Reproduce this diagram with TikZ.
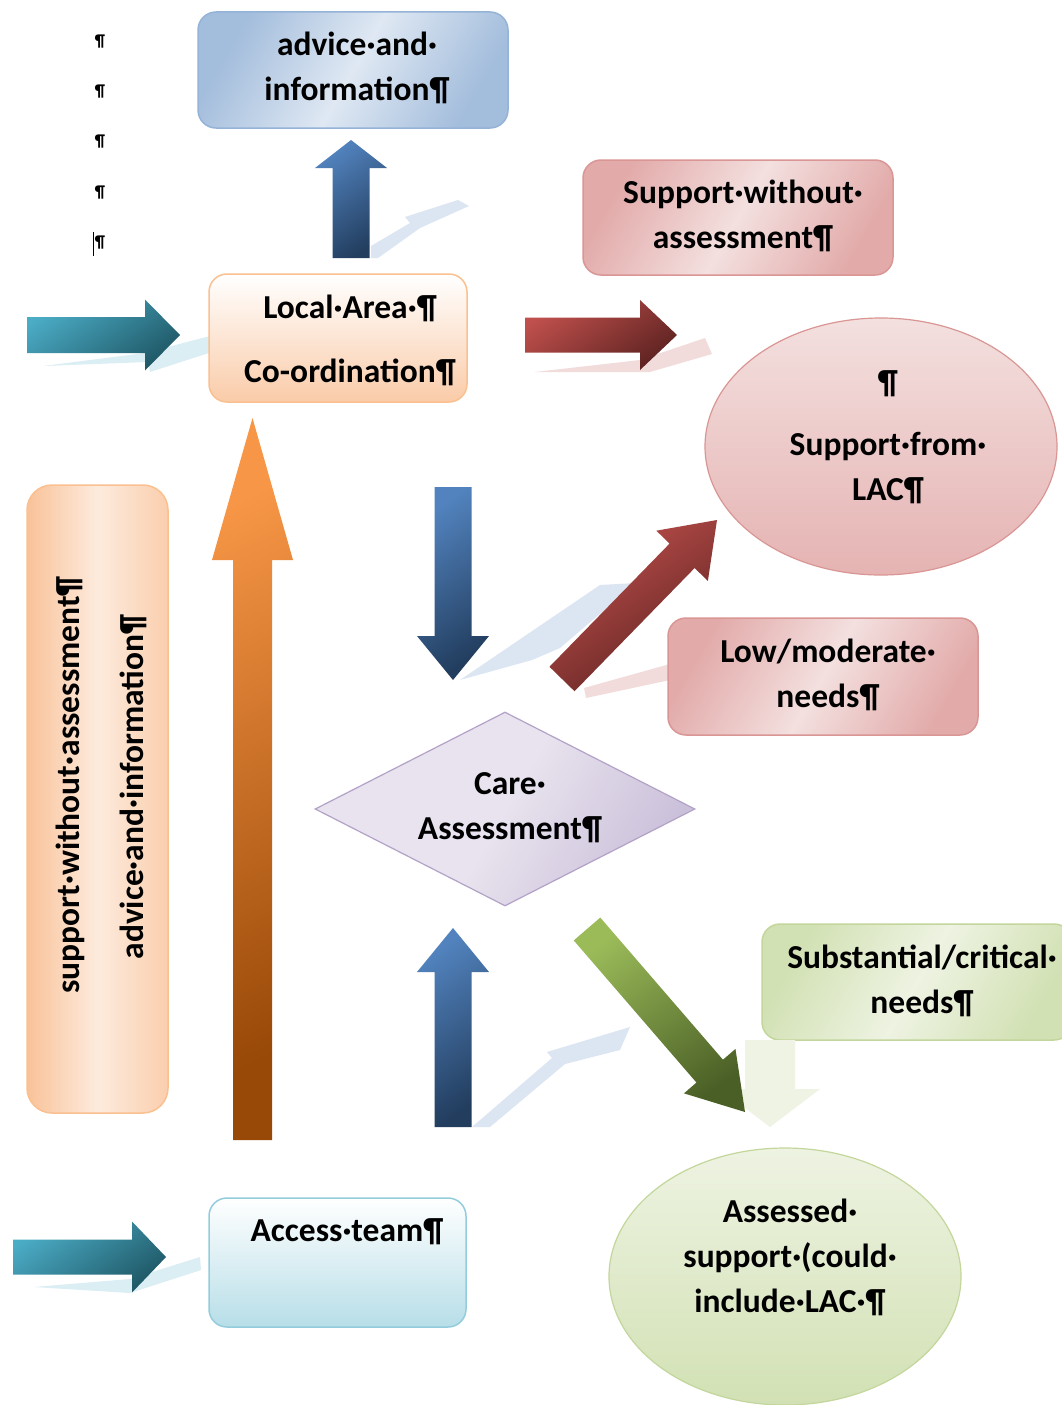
\documentclass[tikz,border=0pt]{standalone}
\usepackage{fontspec}
\setmainfont{Carlito}
\usetikzlibrary{calc,shapes.geometric}

\definecolor{bL}{HTML}{DFE8F3}\definecolor{bD}{HTML}{A3BDDC}\definecolor{bB}{HTML}{95B3D7}
\definecolor{pL}{HTML}{F3E0DF}\definecolor{pD}{HTML}{E2ABAA}\definecolor{pB}{HTML}{D99694}
\definecolor{oL}{HTML}{FDEBDD}\definecolor{oD}{HTML}{F9C299}\definecolor{oB}{HTML}{FAC090}
\definecolor{gL}{HTML}{EEF3E2}\definecolor{gD}{HTML}{D2E1B4}\definecolor{gB}{HTML}{C3D69B}
\definecolor{lL}{HTML}{E8E3EE}\definecolor{lD}{HTML}{CBC0DA}\definecolor{lB}{HTML}{B3A2C7}
\definecolor{aD}{HTML}{B7DEE8}\definecolor{aB}{HTML}{93CDDD}
\definecolor{rfB}{HTML}{DCE6F2}\definecolor{rfT}{HTML}{DAEEF3}\definecolor{rfP}{HTML}{F2DCDB}\definecolor{rfG}{HTML}{EEF3E4}
\definecolor{arB1}{HTML}{5283BE}\definecolor{arB2}{HTML}{223D5E}
\definecolor{arT1}{HTML}{4BACC6}\definecolor{arT2}{HTML}{1F5866}
\definecolor{arR1}{HTML}{C0504D}\definecolor{arR2}{HTML}{5E2321}
\definecolor{arO1}{HTML}{F79646}\definecolor{arO2}{HTML}{984807}
\definecolor{arG1}{HTML}{9BBB59}\definecolor{arG2}{HTML}{4A5F26}

\tikzset{
  lbl/.style={font=\fontsize{33.5}{45}\selectfont\bfseries, align=center, inner sep=0pt, text=black},
  smallpil/.style={font=\fontsize{17}{50.3}\selectfont\bfseries, align=center, inner sep=0pt},
  boxbase/.style={rounded corners=18pt, line width=1.5pt, inner sep=0pt},
  bluebox/.style={boxbase, draw=bB, left color=bD, right color=bD, middle color=bL, shading angle=60},
  pinkbox/.style={boxbase, draw=pB, left color=pD, right color=pD, middle color=pL, shading angle=60},
  greenbox/.style={boxbase, draw=gB, left color=gD, right color=gD, middle color=gL, shading angle=60},
  peachbox/.style={boxbase, draw=oB, top color=white, bottom color=oD!85},
  aquabox/.style={boxbase, draw=aB, top color=white, bottom color=aD},
  sidebox/.style={boxbase, rounded corners=25pt, draw=oB, left color=oD, right color=oD!80, middle color=oL},
  pinkell/.style={ellipse, line width=1.2pt, draw=pB, top color=pL, bottom color=pD!90, inner sep=0pt},
  greenell/.style={ellipse, line width=1.2pt, draw=gB, top color=gL, bottom color=gD, inner sep=0pt},
  lilac/.style={diamond, line width=1.2pt, draw=lB, left color=lL, right color=lD, middle color=lL, shading angle=60, inner sep=0pt},
  blueArr/.style={top color=arB1, bottom color=arB2, shading angle=35},
  tealArr/.style={top color=arT1, bottom color=arT2, shading angle=35},
  redArr/.style={top color=arR1, bottom color=arR2, shading angle=35},
  orangeArr/.style={top color=arO1, bottom color=arO2, shading angle=25},
  greenArr/.style={top color=arG1, bottom color=arG2, shading angle=35},
  paleArr/.style={fill=rfG},
}

% #1 style, #2 tail, #3 tip, #4 shaft half width, #5 head half width, #6 head length
\newcommand{\blockarrow}[6]{%
  \coordinate (ba-base) at ($(#3)!#6pt!(#2)$);
  \path[#1] ($(#2)!#4pt!90:(#3)$) -- ($(ba-base)!#4pt!-90:(#2)$) -- ($(ba-base)!#5pt!-90:(#2)$) -- (#3)
     -- ($(ba-base)!#5pt!90:(#2)$) -- ($(ba-base)!#4pt!90:(#2)$) -- ($(#2)!#4pt!-90:(#3)$) -- cycle;
}

\begin{document}
\begin{tikzpicture}[x=1pt,y=-1pt]
\useasboundingbox (0,0) rectangle (1061,1405);
\fill[white] (0,0) rectangle (1061,1405);

% faint reflections
\fill[rfB] (371,258) -- (371,246) -- (410,223) -- (405,217) -- (458,200) -- (469,206) -- (420,228) -- (378,258) -- cycle;
\fill[rfT] (43,366) -- (145,353) -- (210,336) -- (212,352) -- (150,372) -- (148,362) -- cycle;
\fill[rfP] (535,372) -- (640,360) -- (705,338) -- (712,354) -- (650,372) -- cycle;
\fill[rfB] (460,680) -- (600,585) -- (636,583) -- (560,648) -- (532,660) -- cycle;
\fill[rfP] (584,688) -- (670,664) -- (670,680) -- (586,698) -- cycle;
\fill[rfB] (472,1127) -- (552,1058) -- (547,1052) -- (630,1027) -- (620,1050) -- (565,1064) -- (490,1127) -- cycle;
\fill[rfT] (34,1287) -- (130,1279) -- (200,1257) -- (201,1270) -- (130,1293) -- cycle;

% boxes
\node[bluebox, minimum width=310pt, minimum height=116pt] (advice) at (353,70) {};
\node[pinkbox, minimum width=310pt, minimum height=115pt] (swa) at (738,217.5) {};
\node[peachbox, minimum width=258pt, minimum height=128pt] (lac) at (338,338) {};
\node[pinkell, minimum width=352pt, minimum height=257pt] (slac) at (881,446.5) {};
\node[sidebox, minimum width=141pt, minimum height=628pt] (side) at (97.5,799) {};
\node[pinkbox, minimum width=310pt, minimum height=117pt] (low) at (823,676.5) {};
\node[lilac, minimum width=380pt, minimum height=194pt] (care) at (505,809) {};
\node[greenbox, minimum width=310pt, minimum height=116pt] (sub) at (917,982) {};
\node[aquabox, minimum width=257pt, minimum height=129pt] (acc) at (337.5,1262.5) {};
\node[greenell, minimum width=352pt, minimum height=257pt] (ass) at (785,1276.5) {};

% arrow end points
\coordinate (a1t) at (351,258);   \coordinate (a1h) at (351,140);
\coordinate (a2t) at (27,335);    \coordinate (a2h) at (180,335);
\coordinate (a3t) at (525,335);   \coordinate (a3h) at (677,335);
\coordinate (a4t) at (252.5,1140);\coordinate (a4h) at (252.5,418);
\coordinate (a5t) at (453,487);   \coordinate (a5h) at (453,680);
\coordinate (a6t) at (562,679);   \coordinate (a6h) at (717,520);
\coordinate (a7t) at (453,1127);  \coordinate (a7h) at (453,928);
\coordinate (a8t) at (587,929);   \coordinate (a8h) at (745,1112);
\coordinate (a9t) at (13,1257);   \coordinate (a9h) at (166,1257);
\coordinate (a10t) at (770,1040); \coordinate (a10h) at (770,1127);

\blockarrow{paleArr}{a10t}{a10h}{25}{50}{38}
\blockarrow{blueArr}{a1t}{a1h}{18.5}{36}{28}
\blockarrow{tealArr}{a2t}{a2h}{18}{35.5}{35}
\blockarrow{redArr}{a3t}{a3h}{17.5}{35}{37}
\blockarrow{orangeArr}{a4t}{a4h}{19.5}{40.5}{142}
\blockarrow{blueArr}{a5t}{a5h}{18.5}{36}{44}
\blockarrow{redArr}{a6t}{a6h}{17.5}{36}{50}
\blockarrow{blueArr}{a7t}{a7h}{18.5}{36}{44}
\blockarrow{greenArr}{a8t}{a8h}{17.5}{34}{54}
\blockarrow{tealArr}{a9t}{a9h}{17.5}{35.5}{34}

% texts
\node[smallpil] (pils) at (100,142) {¶\\¶\\¶\\¶\\¶};
\draw[line width=1.6pt] (93.5,232) -- (93.5,256);
\node[lbl] (t-advice) at (357,68) {advice·and·\\information¶};
\node[lbl] (t-swa) at (743,216) {Support·without·\\assessment¶};
\node[lbl] (t-lac) at (350,340) {Local·Area·¶\\[19pt]Co-ordination¶};
\node[lbl] (t-slac) at (888,437) {¶\\[17pt]Support·from·\\LAC¶};
\node[lbl] (t-low) at (828,675) {Low/moderate·\\needs¶};
\node[lbl] (t-care) at (510,808) {Care·\\Assessment¶};
\node[lbl] (t-sub) at (922,981) {Substantial/critical·\\needs¶};
\node[lbl] (t-acc) at (347,1232) {Access·team¶};
\node[lbl] (t-ass) at (790,1257) {Assessed·\\support·(could·\\include·LAC·¶};
\node[lbl, rotate=90] (t-side1) at (70,785) {support·without·assessment¶};
\node[lbl, rotate=90] (t-side2) at (133,787) {advice·and·information¶};
\end{tikzpicture}
\end{document}
